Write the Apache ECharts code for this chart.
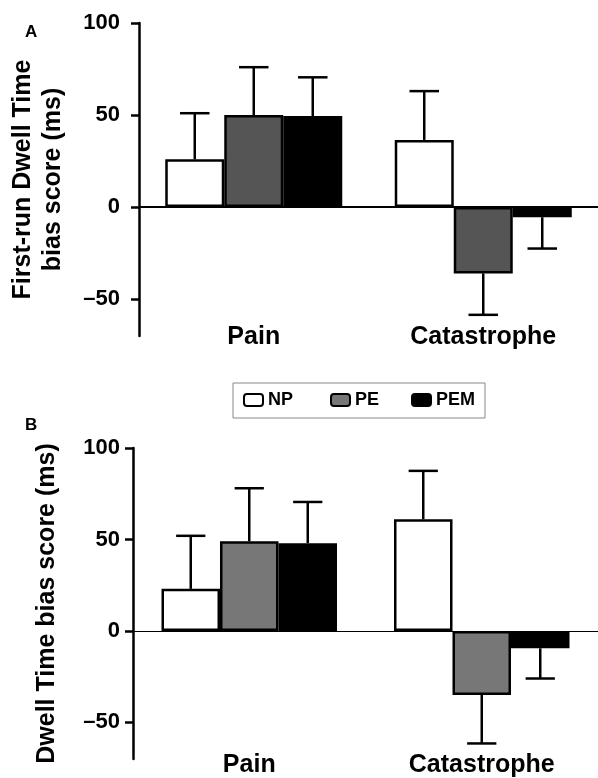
<!DOCTYPE html>
<html>
<head>
<meta charset="utf-8">
<script src="https://cdn.jsdelivr.net/npm/echarts@6/dist/echarts.min.js"></script>
<style>
html, body { margin: 0; padding: 0; background: #fff; }
#chart { width: 598px; height: 778px; }
</style>
</head>
<body>
<div id="chart"></div>
<script>
var categories = ['Pain', 'Catastrophe'];
var groups = ['NP', 'PE', 'PEM'];
var yTicks = [-50, 0, 50, 100];

// A: first-run dwell time bias (means, error bar lengths)
var firstRunNP = [26, 36.5];
var firstRunPE = [50, -36];
var firstRunPEM = [49.5, -5.5];
var firstRunErrNP = [25, 26.5];
var firstRunErrPE = [26, 22.5];
var firstRunErrPEM = [21, 17];

// B: dwell time bias
var dwellNP = [23, 61];
var dwellPE = [49, -35];
var dwellPEM = [48, -9.5];
var dwellErrNP = [29, 26.5];
var dwellErrPE = [29, 26.5];
var dwellErrPEM = [22.5, 16.5];

var FONT = '"Liberation Sans", Arial, sans-serif';
var colors = { NP: '#fff', PE: '#555', PEM: '#000' };

//错误条数据：[类别序号, 组序号, 均值, 误差]
function errData(means, errs) {
	var out = [];
	means.forEach(function (m, g) {
		m.forEach(function (v, c) {
			out.push([c, g, v, errs[g][c]]);
		});
	});
	return out;
}

function errorBar(barW) {
	return function (params, api) {
		var cat = api.value(0), g = api.value(1), mean = api.value(2), err = api.value(3);
		var end = mean >= 0 ? mean + err : mean - err;
		var base = api.coord([cat, mean]);
		var tip = api.coord([cat, end]);
		var x = base[0] + (g - 1) * barW;
		var cap = barW / 4;
		var style = { stroke: '#000', lineWidth: 2.5 };
		return {
			type: 'group',
			children: [
				{ type: 'line', shape: { x1: x, y1: base[1], x2: x, y2: tip[1] }, style: style },
				{ type: 'line', shape: { x1: x - cap, y1: tip[1], x2: x + cap, y2: tip[1] }, style: style }
			]
		};
	};
}

function yAxis(idx, name, labelMargin, lineHeight) {
	return {
		type: 'value', gridIndex: idx, min: -70, max: 100,
		splitLine: { show: false },
		axisLine: { show: true, lineStyle: { color: '#000', width: 2.5 } },
		axisTick: { show: true, length: 8, customValues: yTicks, lineStyle: { color: '#000', width: 2.5 } },
		axisLabel: {
			customValues: yTicks, margin: labelMargin,
			color: '#000', fontFamily: FONT, fontWeight: 'bold', fontSize: 22,
			formatter: function (v) { return v < 0 ? '\u2013' + (-v) : String(v); }
		},
		name: name, nameLocation: 'middle', nameRotate: 90, nameGap: 71,
		nameTextStyle: { color: '#000', fontFamily: FONT, fontWeight: 'bold', fontSize: 25, lineHeight: lineHeight }
	};
}

function xAxis(idx, margin) {
	return {
		type: 'category', gridIndex: idx, data: categories,
		axisLine: { show: false }, axisTick: { show: false },
		axisLabel: { margin: margin, color: '#000', fontFamily: FONT, fontWeight: 'bold', fontSize: 25 }
	};
}

function bars(idx, values, peColor, barW, zeroWidth) {
	return groups.map(function (g, i) {
		var s = {
			type: 'bar', name: g, xAxisIndex: idx, yAxisIndex: idx,
			data: values[i], barWidth: barW, barGap: '0%',
			itemStyle: { color: g === 'PE' ? peColor : colors[g], borderColor: '#000', borderWidth: 2.5 },
			emphasis: { disabled: true }
		};
		if (i === 0) {
			s.markLine = {
				silent: true, symbol: ['none', 'none'], label: { show: false },
				lineStyle: { color: '#000', width: zeroWidth, type: 'solid' },
				data: [{ yAxis: 0 }]
			};
		}
		return s;
	});
}

var legendBase = {
	orient: 'horizontal', padding: 0, icon: 'roundRect',
	itemWidth: 19, itemHeight: 12, selectedMode: false,
	textStyle: { color: '#000', fontFamily: FONT, fontWeight: 'bold', fontSize: 18 }
};

function legendAt(name, color, left) {
	return Object.assign({}, legendBase, {
		left: left, top: 391,
		data: [{ name: name, itemStyle: { color: color, borderColor: '#000', borderWidth: 2 } }]
	});
}

var chart = echarts.init(document.getElementById('chart'));

chart.setOption({
	backgroundColor: '#fff',
	animation: false,
	grid: [
		{ left: 135, top: 23, width: 470, height: 313 },
		{ left: 133, top: 448, width: 468, height: 313 }
	],
	xAxis: [xAxis(0, -11), xAxis(1, -6)],
	yAxis: [
		yAxis(0, 'First-run Dwell Time\nbias score (ms)', 19, 30),
		yAxis(1, 'Dwell Time bias score (ms)', 13, 30)
	],
	legend: [
		legendAt('NP', '#fff', 243),
		legendAt('PE', '#777', 330),
		legendAt('PEM', '#000', 411)
	],
	graphic: [
		{ type: 'text', left: 25, top: 24, style: { text: 'A', fill: '#000', font: 'bold 17px ' + FONT } },
		{ type: 'text', left: 25, top: 417, style: { text: 'B', fill: '#000', font: 'bold 17px ' + FONT } },
		{ type: 'rect', shape: { x: 233, y: 383, width: 252, height: 35 }, style: { fill: 'none', stroke: '#888', lineWidth: 1 } }
	],
	series: [].concat(
		bars(0, [firstRunNP, firstRunPE, firstRunPEM], '#555', 59, 2),
		[{
			type: 'custom', name: 'SEM A', xAxisIndex: 0, yAxisIndex: 0, z: 3,
			renderItem: errorBar(59), encode: { x: 0, y: 2 },
			data: errData([firstRunNP, firstRunPE, firstRunPEM], [firstRunErrNP, firstRunErrPE, firstRunErrPEM])
		}],
		bars(1, [dwellNP, dwellPE, dwellPEM], '#777', 58.5, 1),
		[{
			type: 'custom', name: 'SEM B', xAxisIndex: 1, yAxisIndex: 1, z: 3,
			renderItem: errorBar(58.5), encode: { x: 0, y: 2 },
			data: errData([dwellNP, dwellPE, dwellPEM], [dwellErrNP, dwellErrPE, dwellErrPEM])
		}]
	)
});
</script>
</body>
</html>
